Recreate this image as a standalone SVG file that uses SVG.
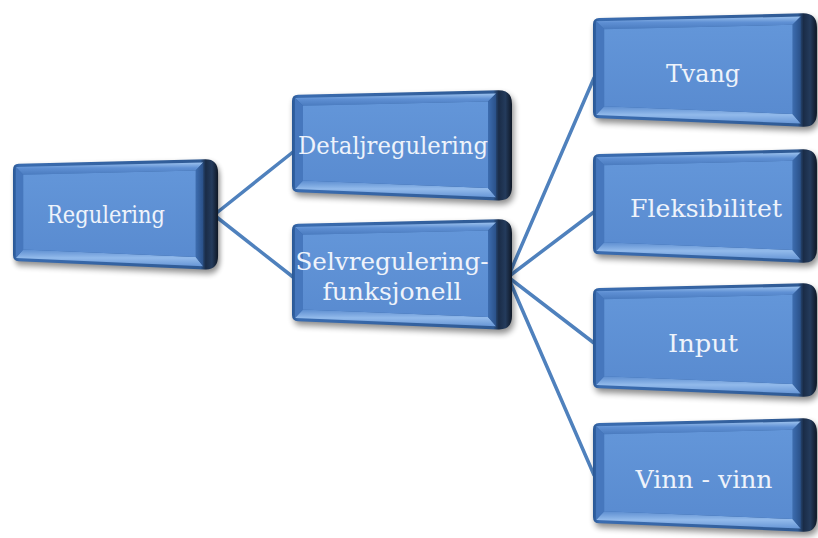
<svg xmlns="http://www.w3.org/2000/svg" xmlns:xlink="http://www.w3.org/1999/xlink" width="818" height="538" viewBox="0 0 818 538">
  <style>
    .label { font-family: "DejaVu Serif", "Liberation Serif", serif; font-size: 25px; fill: #eef3fb; text-anchor: middle; }
    .link { stroke: #4f81bd; stroke-width: 3.5; fill: none; stroke-linecap: round; }
  </style>
  <defs>
    <filter id="soft" x="-10%" y="-15%" width="125%" height="140%">
      <feGaussianBlur stdDeviation="3"/>
    </filter>
    <linearGradient id="bodyGrad" x1="0" y1="0" x2="1" y2="0">
      <stop offset="0" stop-color="#2a5896"/>
      <stop offset="0.03" stop-color="#3a6cb0"/>
      <stop offset="0.915" stop-color="#2f5a94"/>
      <stop offset="0.94" stop-color="#1a2c47"/>
      <stop offset="0.97" stop-color="#243b5c"/>
      <stop offset="1" stop-color="#0e1725"/>
    </linearGradient>
    <linearGradient id="topGrad" x1="0" y1="0" x2="0" y2="1">
      <stop offset="0" stop-color="#9cc2ee"/>
      <stop offset="0.45" stop-color="#5f90d4"/>
      <stop offset="1" stop-color="#4a7bbf"/>
    </linearGradient>
    <linearGradient id="bottomGrad" x1="0" y1="0" x2="0" y2="1">
      <stop offset="0" stop-color="#5c8dd0"/>
      <stop offset="0.5" stop-color="#92baeb"/>
      <stop offset="1" stop-color="#6796d6"/>
    </linearGradient>
    <linearGradient id="rightGrad" x1="0" y1="0" x2="1" y2="0">
      <stop offset="0" stop-color="#3d6db0"/>
      <stop offset="1" stop-color="#2a5189"/>
    </linearGradient>
    <linearGradient id="faceGrad" x1="0" y1="0" x2="0" y2="1">
      <stop offset="0" stop-color="#6396d9"/>
      <stop offset="1" stop-color="#598bd0"/>
    </linearGradient>

    <!-- bevelled box, slightly turned so the right side is nearer -->
    <g id="box">
      <path transform="translate(2,4)" filter="url(#soft)" fill="#000" opacity="0.45"
            d="M0,11 Q0,5 6,4.86 L206,0.3 Q220,0 220,14 L220,97 Q220,111 206,110.4 L6,102.25 Q0,102 0,96 Z"/>
      <path fill="url(#bodyGrad)"
            d="M0,11 Q0,5 6,4.86 L206,0.3 Q220,0 220,14 L220,97 Q220,111 206,110.4 L6,102.25 Q0,102 0,96 Z"/>
      <path fill="url(#topGrad)" d="M3,7.9 L204,3.4 L196,11.5 L11,15.8 Z"/>
      <path fill="url(#bottomGrad)" d="M11,90.5 L196,98 L204,107.3 L3,99.1 Z"/>
      <path fill="#4677bd" d="M3,7.9 L11,15.8 L11,90.5 L3,99.1 Z"/>
      <path fill="url(#rightGrad)" d="M204,3.4 L204,107.3 L196,98 L196,11.5 Z"/>
      <path fill="url(#faceGrad)" d="M11,15.8 L196,11.5 L196,98 L11,90.5 Z"/>
    </g>
  </defs>

  <g id="connectors">
    <line class="link" x1="214" y1="215" x2="293" y2="152"/>
    <line class="link" x1="214" y1="215" x2="293" y2="277"/>
    <line class="link" x1="508" y1="277" x2="594" y2="78"/>
    <line class="link" x1="508" y1="277" x2="594" y2="212"/>
    <line class="link" x1="508" y1="277" x2="594" y2="343"/>
    <line class="link" x1="508" y1="277" x2="594" y2="475"/>
  </g>

  <g id="node-regulering">
    <use xlink:href="#box" transform="translate(13,159) scale(0.932,1)"/>
    <text class="label" x="106" y="223" textLength="118" lengthAdjust="spacingAndGlyphs">Regulering</text>
  </g>

  <g id="node-detaljregulering">
    <use xlink:href="#box" transform="translate(292,90)"/>
    <text class="label" x="393" y="154" textLength="190" lengthAdjust="spacingAndGlyphs">Detaljregulering</text>
  </g>

  <g id="node-selvregulering">
    <use xlink:href="#box" transform="translate(292,219)"/>
    <text class="label" x="392" y="270" textLength="193" lengthAdjust="spacingAndGlyphs">Selvregulering-</text>
    <text class="label" x="392" y="300" textLength="139" lengthAdjust="spacingAndGlyphs">funksjonell</text>
  </g>

  <g id="node-tvang">
    <use xlink:href="#box" transform="translate(593,13) scale(1.018,1.03)"/>
    <text class="label" x="703" y="82" textLength="74" lengthAdjust="spacingAndGlyphs">Tvang</text>
  </g>

  <g id="node-fleksibilitet">
    <use xlink:href="#box" transform="translate(593,149) scale(1.018,1.03)"/>
    <text class="label" x="706" y="217" textLength="152" lengthAdjust="spacingAndGlyphs">Fleksibilitet</text>
  </g>

  <g id="node-input">
    <use xlink:href="#box" transform="translate(593,283) scale(1.018,1.03)"/>
    <text class="label" x="703" y="352" textLength="70" lengthAdjust="spacingAndGlyphs">Input</text>
  </g>

  <g id="node-vinn-vinn">
    <use xlink:href="#box" transform="translate(593,418) scale(1.018,1.03)"/>
    <text class="label" x="704" y="488" textLength="137" lengthAdjust="spacingAndGlyphs">Vinn - vinn</text>
  </g>
</svg>
